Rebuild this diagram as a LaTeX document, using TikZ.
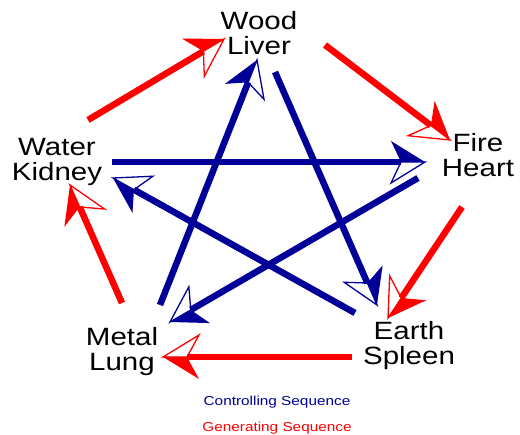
\documentclass[tikz,border=0pt]{standalone}
\usepackage{graphicx}
\usepackage{fontspec}
\setmainfont{Liberation Sans}
\usetikzlibrary{calc}
\definecolor{ctrl}{RGB}{0,0,153}
\definecolor{gen}{RGB}{255,0,0}
\newcommand\lbl[1]{\scalebox{1.18}[1]{#1}}
% half-filled arrow: colour, start, tip, head length, half width
\newcommand\halfarrow[5]{%
  \coordinate (hP) at ($(#3)!#4pt!(#2)$);
  \coordinate (hN) at ($(#3)!24pt!(#2)$);
  \coordinate (hL) at ($(hP)!#5pt!90:(#3)$);
  \coordinate (hR) at ($(hP)!#5pt!-90:(#3)$);
  \draw[shaft,#1] (#2) -- (hN);
  \fill[#1] (#3) -- (hL) -- (hN) -- cycle;
  \draw[headline,#1] (#3) -- (hR) -- (hN) -- cycle;
}
\tikzset{
  shaft/.style={line width=6.5pt},
  headline/.style={line width=1.3pt,line join=miter},
  elem/.style={align=center,font=\fontsize{25}{25}\selectfont,inner sep=0pt},
  legendtext/.style={font=\fontsize{13}{13}\selectfont,inner sep=0pt}
}
\begin{document}
\begin{tikzpicture}[x=1pt,y=-1pt]
\useasboundingbox (0,0) rectangle (520,435);
% element labels
\node[elem] (wood)  at (259,33)  {\lbl{Wood}\\\lbl{Liver}};
\node[elem] (fire)  at (478,155) {\lbl{Fire}\\\lbl{Heart}};
\node[elem] (earth) at (409,346) {\lbl{Earth}\\\lbl{Spleen}};
\node[elem] (metal) at (122,352) {\lbl{Metal}\\\lbl{Lung}};
\node[elem] (water) at (57,162)  {\lbl{Water}\\\lbl{Kidney}};
\node[legendtext,text=ctrl] (ctl) at (277,402) {\lbl{Controlling Sequence}};
\node[legendtext,text=gen]  (gnr) at (277,428) {\lbl{Generating Sequence}};
% connector end points
\coordinate (g1s) at (88,120);  \coordinate (g1e) at (224,39);
\coordinate (g2s) at (325,45);  \coordinate (g2e) at (450,140);
\coordinate (g3s) at (462,207); \coordinate (g3e) at (388,318);
\coordinate (g4s) at (352,357); \coordinate (g4e) at (163,357);
\coordinate (g5s) at (122,303); \coordinate (g5e) at (70,185);
\coordinate (c1s) at (160,305); \coordinate (c1e) at (257,60);
\coordinate (c2s) at (275,72);  \coordinate (c2e) at (377,305);
\coordinate (c3s) at (355,313); \coordinate (c3e) at (113,178);
\coordinate (c4s) at (112,162); \coordinate (c4e) at (425,162);
\coordinate (c5s) at (418,178); \coordinate (c5e) at (170,322);
% controlling sequence (blue)
\halfarrow{ctrl}{c1s}{c1e}{34}{21}
\halfarrow{ctrl}{c2s}{c2e}{34}{21}
\halfarrow{ctrl}{c3s}{c3e}{34}{21}
\halfarrow{ctrl}{c4s}{c4e}{34}{21}
\halfarrow{ctrl}{c5s}{c5e}{34}{21}
% generating sequence (red)
\halfarrow{gen}{g1s}{g1e}{36}{22}
\halfarrow{gen}{g2s}{g2e}{36}{22}
\halfarrow{gen}{g3s}{g3e}{36}{22}
\halfarrow{gen}{g4s}{g4e}{36}{22}
\halfarrow{gen}{g5s}{g5e}{36}{22}
\end{tikzpicture}
\end{document}
